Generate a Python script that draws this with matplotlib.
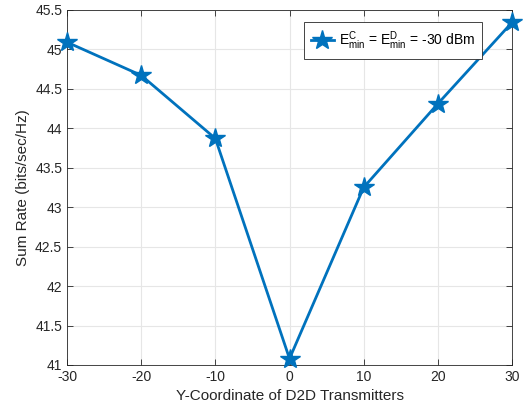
import matplotlib
matplotlib.use('Agg')
import matplotlib.pyplot as plt

plt.rcParams['font.family'] = ['Liberation Sans', 'DejaVu Sans']
plt.rcParams['mathtext.fontset'] = 'custom'
plt.rcParams['mathtext.rm'] = 'Liberation Sans'
plt.rcParams['mathtext.it'] = 'Liberation Sans'

# data
y_coord = [-30, -20, -10, 0, 10, 20, 30]
sum_rate = [45.09, 44.67, 43.87, 41.08, 43.25, 44.31, 45.34]
xticks = [-30, -20, -10, 0, 10, 20, 30]
yticks = [41, 41.5, 42, 42.5, 43, 43.5, 44, 44.5, 45, 45.5]

LINE_CLR = '#0072BD'

fig = plt.figure(figsize=(5.24, 4.11), dpi=100)
ax = fig.add_axes([0.128, 0.112, 0.849, 0.864])

ax.plot(y_coord, sum_rate, color=LINE_CLR, lw=2, marker='*', ms=15,
        label=r'E$^{\rm C}_{\rm min}$ = E$^{\rm D}_{\rm min}$ = -30 dBm',
        clip_on=False, zorder=3)

ax.set_xlim(-30, 30)
ax.set_ylim(41, 45.5)
ax.set_xticks(xticks)
ax.set_xticklabels([str(t) for t in xticks])
ax.set_yticks(yticks)
ax.set_yticklabels(['41', '41.5', '42', '42.5', '43', '43.5', '44', '44.5', '45', '45.5'])
ax.tick_params(direction='in', labelsize=10, length=4, width=0.6,
               top=True, right=True, colors='#262626')
ax.grid(True, color='#E6E6E6', lw=0.8)
ax.set_axisbelow(True)
for s in ax.spines.values():
    s.set_color('#262626')
    s.set_linewidth(0.6)

ax.set_xlabel('Y-Coordinate of D2D Transmitters', fontsize=11, color='#262626')
ax.set_ylabel('Sum Rate (bits/sec/Hz)', fontsize=11, color='#262626')

leg = ax.legend(loc='upper right', bbox_to_anchor=(0.933, 0.965), fontsize=10,
                fancybox=False, framealpha=1, edgecolor='#262626',
                handlelength=1.6, borderpad=0.5, handletextpad=0.4,
                borderaxespad=0)
leg.get_frame().set_linewidth(0.6)

fig.savefig('out.png', dpi=100, facecolor='white')
